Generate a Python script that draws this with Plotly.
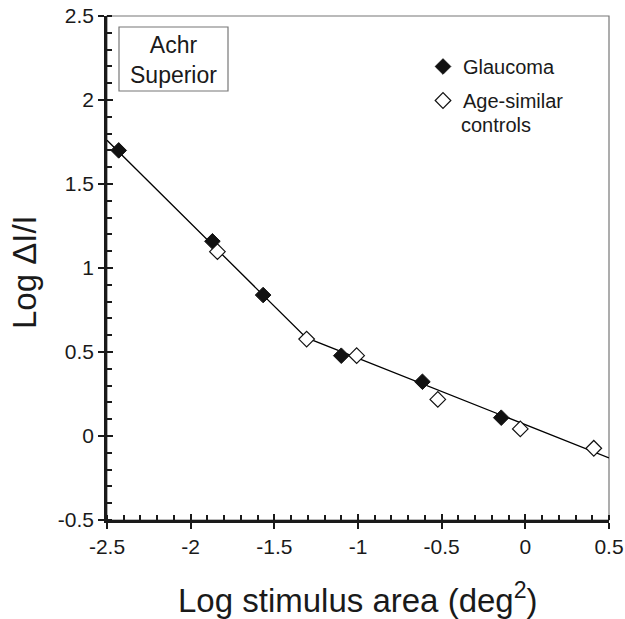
import plotly.graph_objects as go

# Data
glaucoma_x = [-2.43, -1.87, -1.567, -1.10, -0.615, -0.144]
glaucoma_y = [1.70, 1.159, 0.839, 0.478, 0.323, 0.109]
controls_x = [-1.84, -1.307, -1.008, -0.523, -0.030, 0.409]
controls_y = [1.097, 0.577, 0.478, 0.218, 0.042, -0.073]
# two-limbed fit line vertices
fit_x = [-2.5, -1.31, 0.5]
fit_y = [1.76, 0.585, -0.13]

x_ticks = [-2.5, -2, -1.5, -1, -0.5, 0, 0.5]
x_ticklabels = ["-2.5", "-2", "-1.5", "-1", "-0.5", "0", "0.5"]
y_ticks = [-0.5, 0, 0.5, 1, 1.5, 2, 2.5]
y_ticklabels = ["-0.5", "0", "0.5", "1", "1.5", "2", "2.5"]

FONT = "Liberation Sans, Arial, sans-serif"
INK = "#1a1a1a"

L, R, T, B = 107, 16, 16, 99
W, H = 625, 619
PW, PH = W - L - R, H - T - B

fig = go.Figure()
fig.add_trace(go.Scatter(x=fit_x, y=fit_y, mode="lines",
                         line=dict(color="black", width=1.3),
                         showlegend=False, hoverinfo="skip"))
fig.add_trace(go.Scatter(x=glaucoma_x, y=glaucoma_y, mode="markers", name="Glaucoma",
                         legendgroup="a",
                         marker=dict(symbol="diamond", size=12, color="#111111",
                                     line=dict(color="#111111", width=1))))
fig.add_trace(go.Scatter(x=controls_x, y=controls_y, mode="markers",
                         name="Age-similar", legendgroup="b",
                         marker=dict(symbol="diamond", size=12, color="white",
                                     line=dict(color="#111111", width=1.2))))
# overlay axes for the inward half of crossing major ticks
fig.add_trace(go.Scatter(x=[], y=[], xaxis="x2", yaxis="y2", showlegend=False))

fig.update_layout(
    width=W, height=H,
    margin=dict(l=L, r=R, t=T, b=B, autoexpand=False),
    paper_bgcolor="white", plot_bgcolor="white",
    font=dict(family=FONT, color=INK, size=18),
    showlegend=True,
    legend=dict(x=(423 - L) / PW, y=1 - (47 - T) / PH, xanchor="left", yanchor="top",
                bgcolor="rgba(0,0,0,0)", font=dict(size=20, family=FONT, color=INK),
                tracegroupgap=5, itemwidth=30),
    xaxis=dict(range=[-2.5, 0.5], tickmode="array", tickvals=x_ticks, ticktext=x_ticklabels,
               ticks="outside", ticklen=6, tickwidth=2, tickcolor=INK,
               showline=True, linecolor=INK, linewidth=2.5,
               showgrid=False, zeroline=False, automargin=False,
               minor=dict(dtick=0.1, ticks="inside", ticklen=5, tickwidth=1.5, tickcolor=INK),
               tickfont=dict(size=21)),
    yaxis=dict(range=[-0.5, 2.5], tickmode="array", tickvals=y_ticks, ticktext=y_ticklabels,
               ticks="outside", ticklen=6, tickwidth=2, tickcolor=INK,
               showline=True, linecolor=INK, linewidth=2.5,
               showgrid=False, zeroline=False, automargin=False,
               minor=dict(dtick=0.1, ticks="inside", ticklen=5, tickwidth=1.5, tickcolor=INK),
               tickfont=dict(size=21)),
    xaxis2=dict(overlaying="x", matches="x", anchor="y", side="bottom",
                tickmode="array", tickvals=x_ticks, ticks="inside", ticklen=6, tickwidth=2,
                tickcolor=INK, showticklabels=False, showline=False,
                showgrid=False, zeroline=False, automargin=False),
    yaxis2=dict(overlaying="y", matches="y", anchor="x", side="left",
                tickmode="array", tickvals=y_ticks, ticks="inside", ticklen=6, tickwidth=2,
                tickcolor=INK, showticklabels=False, showline=False,
                showgrid=False, zeroline=False, automargin=False),
    shapes=[
        dict(type="rect", xref="paper", yref="paper", x0=0, x1=1, y0=0, y1=1,
             line=dict(color="#777777", width=1.2), layer="below"),
        dict(type="rect", xref="paper", yref="paper",
             x0=(119 - L) / PW, x1=(228 - L) / PW,
             y0=1 - (91 - T) / PH, y1=1 - (27 - T) / PH,
             line=dict(color="#777777", width=1.2), fillcolor="white"),
    ],
    annotations=[
        dict(text="Achr<br>Superior", xref="paper", yref="paper",
             x=(173.5 - L) / PW, y=1 - (60 - T) / PH,
             showarrow=False, font=dict(size=23, family=FONT, color=INK),
             xanchor="center", yanchor="middle"),
        dict(text="controls", xref="paper", yref="paper",
             x=(459 - L) / PW, y=1 - (125 - T) / PH,
             showarrow=False, font=dict(size=20, family=FONT, color=INK),
             xanchor="left", yanchor="middle"),
        dict(text="Log stimulus area (deg<sup>2</sup>)", xref="paper", yref="paper",
             x=0.5, y=1 - (598 - T) / PH, showarrow=False,
             font=dict(size=33, family=FONT, color=INK),
             xanchor="center", yanchor="middle"),
        dict(text="Log \u0394I/I", xref="paper", yref="paper",
             x=(24 - L) / PW, y=1 - (272 - T) / PH, showarrow=False, textangle=-90,
             font=dict(size=33, family=FONT, color=INK),
             xanchor="center", yanchor="middle"),
    ],
)

fig.write_html("out.html", config={"displayModeBar": False},
               post_script="document.body.style.margin='0';document.body.style.padding='0';")
